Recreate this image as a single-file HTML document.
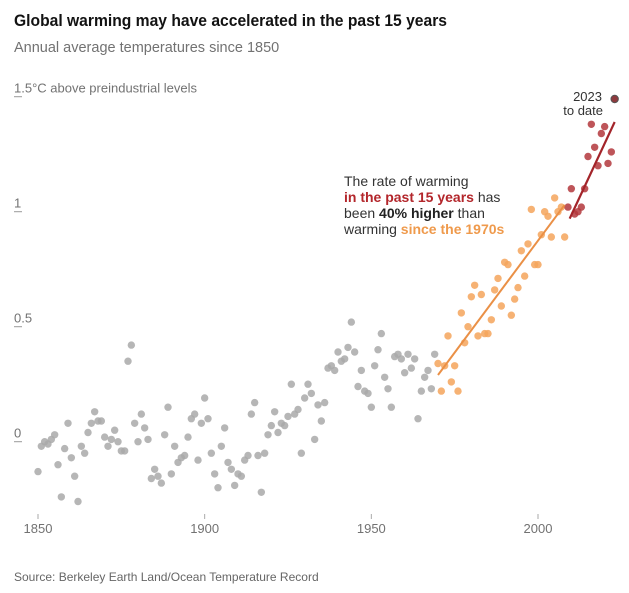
<!DOCTYPE html>
<html><head><meta charset="utf-8"><style>
html,body{margin:0;padding:0;background:#fff;}
body{width:629px;height:593px;overflow:hidden;font-family:"Liberation Sans",sans-serif;}
svg{position:absolute;left:0;top:0;}
</style></head><body>
<svg id="chart" width="629" height="593">
<text x="14" y="26" font-size="16.5" font-weight="bold" fill="#121212" textLength="433" lengthAdjust="spacingAndGlyphs">Global warming may have accelerated in the past 15 years</text>
<text x="14" y="52" font-size="14.5" fill="#727272">Annual average temperatures since 1850</text>
<text x="14" y="581" font-size="12" fill="#666">Source: Berkeley Earth Land/Ocean Temperature Record</text>
<g id="yaxis"></g>
<g id="xaxis"></g>
<g id="dots"></g>
<g id="trends"></g>
<g font-size="14" fill="#333">
<text x="344" y="186">The rate of warming</text>
<text x="344" y="202"><tspan fill="#b3262b" font-weight="bold">in the past 15 years</tspan> has</text>
<text x="344" y="218">been <tspan font-weight="bold" fill="#222">40% higher</tspan> than</text>
<text x="344" y="234">warming <tspan fill="#ef9a4c" font-weight="bold">since the 1970s</tspan></text>
</g>
<g font-size="13" fill="#333" text-anchor="end">
<text x="602" y="101">2023</text>
<text x="603" y="115">to date</text>
</g>
</svg>
<script>
const years = [];
for (let y = 1850; y <= 2023; y++) years.push(y);
const anomalies = [
-0.13,-0.02,0.0,-0.01,0.01,0.03,-0.10,-0.24,-0.03,0.08,
-0.07,-0.15,-0.26,-0.02,-0.05,0.04,0.08,0.13,0.09,0.09,
0.02,-0.02,0.01,0.05,0.0,-0.04,-0.04,0.35,0.42,0.08,
0.0,0.12,0.06,0.01,-0.16,-0.12,-0.15,-0.18,0.03,0.15,
-0.14,-0.02,-0.09,-0.07,-0.06,0.02,0.10,0.12,-0.08,0.08,
0.19,0.10,-0.05,-0.14,-0.20,-0.02,0.06,-0.09,-0.12,-0.19,
-0.14,-0.15,-0.08,-0.06,0.12,0.17,-0.06,-0.22,-0.05,0.03,
0.07,0.13,0.04,0.08,0.07,0.11,0.25,0.12,0.14,-0.05,
0.19,0.25,0.21,0.01,0.16,0.09,0.17,0.32,0.33,0.31,
0.39,0.35,0.36,0.41,0.52,0.39,0.24,0.31,0.22,0.21,
0.15,0.33,0.40,0.47,0.28,0.23,0.15,0.37,0.38,0.36,
0.30,0.38,0.32,0.36,0.10,0.22,0.28,0.31,0.23,0.38,
0.34,0.22,0.33,0.46,0.26,0.33,0.22,0.56,0.43,0.50,
0.63,0.68,0.46,0.64,0.47,0.47,0.53,0.66,0.71,0.59,
0.78,0.77,0.55,0.62,0.67,0.83,0.72,0.86,1.01,0.77,
0.77,0.90,1.00,0.98,0.89,1.06,1.00,1.02,0.89,1.02,
1.10,0.99,1.00,1.02,1.10,1.24,1.38,1.28,1.20,1.34,
1.37,1.21,1.26,1.49];
const yTicks = [0, 0.5, 1, 1.5];
const yTickLabels = ["0", "0.5", "1", "1.5°C above preindustrial levels"];
const xTicks = [1850, 1900, 1950, 2000];
const trend1970Years = [1970, 2008];
const trend1970Values = [0.29, 1.03];
const trend15Years = [2009.5, 2023];
const trend15Values = [0.97, 1.39];

const xs = yr => 38 + (yr - 1850) * (500 / 150);
const ys = v => 441.7 - v * 230;
const NS = "http://www.w3.org/2000/svg";
function mk(tag, attrs, parent) {
  const e = document.createElementNS(NS, tag);
  for (const k in attrs) e.setAttribute(k, attrs[k]);
  parent.appendChild(e);
  return e;
}
const yaxis = document.getElementById('yaxis');
yTicks.forEach((t, i) => {
  const tx = mk('text', {x: 14, y: ys(t) - 4, 'font-size': 13, fill: '#727272'}, yaxis);
  
  
  tx.textContent = yTickLabels[i];
  const u = mk('line', {x1: 14, x2: 22, y1: ys(t), y2: ys(t), stroke: '#999', 'stroke-width': 1}, yaxis);
  
  
});
const xaxis = document.getElementById('xaxis');
xTicks.forEach(t => {
  const tx = mk('text', {x: xs(t), y: 533, 'font-size': 13, fill: '#727272', 'text-anchor': 'middle'}, xaxis);
  
  
  tx.textContent = t;
  const tk = mk('line', {x1: xs(t), x2: xs(t), y1: 514, y2: 519, stroke: '#aaa'}, xaxis);
  
  
});
const dots = document.getElementById('dots');
years.forEach((yr, i) => {
  let fill = '#a9a9a9', op = 0.85;
  if (yr >= 1970) { fill = '#f4a45c'; op = 0.85; }
  if (yr >= 2009) { fill = '#b3373c'; op = 0.85; }
  if (yr === 2023) { fill = '#8e3a3e'; op = 1; }
  const c = mk('circle', {cx: xs(yr), cy: ys(anomalies[i]), r: 3.7, fill: fill, 'fill-opacity': op}, dots);
  if (yr === 2023) { c.setAttribute('stroke', '#555'); c.setAttribute('stroke-width', 1); }
  
  
});
const trends = document.getElementById('trends');
const l1 = mk('line', {x1: xs(trend1970Years[0]), y1: ys(trend1970Values[0]), x2: xs(trend1970Years[1]), y2: ys(trend1970Values[1]), stroke: '#ea9046', 'stroke-width': 2}, trends);


const l2 = mk('line', {x1: xs(trend15Years[0]), y1: ys(trend15Values[0]), x2: xs(trend15Years[1]), y2: ys(trend15Values[1]), stroke: '#a3242a', 'stroke-width': 2.2}, trends);


</script>
</body></html>
